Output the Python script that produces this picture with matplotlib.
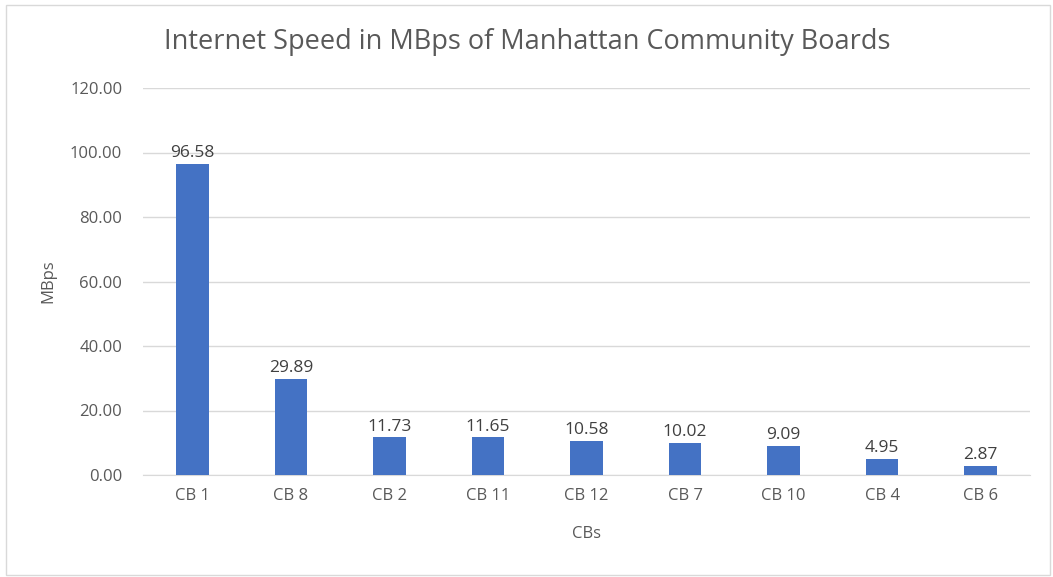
import matplotlib.pyplot as plt
from matplotlib.patches import Rectangle

boards = ["CB 1", "CB 8", "CB 2", "CB 11", "CB 12", "CB 7", "CB 10", "CB 4", "CB 6"]
speeds = [96.58, 29.89, 11.73, 11.65, 10.58, 10.02, 9.09, 4.95, 2.87]
yticks = [0, 20, 40, 60, 80, 100, 120]

plt.rcParams['font.family'] = ['Open Sans', 'DejaVu Sans']
txt = '#595959'

fig = plt.figure(figsize=(10.53, 5.77), dpi=100)
ax = fig.add_axes([143/1053, 1 - 475/577, (1030-143)/1053, (475-88)/577])

x = list(range(len(boards)))
bars = ax.bar(x, speeds, width=0.33, color='#4472C4', zorder=3)
for xi, v in zip(x, speeds):
    ax.text(xi, v + 0.8, f"{v:.2f}", ha='center', va='bottom', fontsize=12.5, color='#404040', zorder=4)

ax.set_xlim(-0.5, len(boards) - 0.5)
ax.set_ylim(0, 120)
ax.set_yticks(yticks)
ax.set_yticklabels([f"{t:.2f}" for t in yticks], fontsize=12, color=txt)
ax.set_xticks(x)
ax.set_xticklabels(boards, fontsize=12, color=txt)
ax.tick_params(length=0, pad=9)
ax.tick_params(axis='y', pad=15)
ax.grid(axis='y', color='#d9d9d9', linewidth=1, zorder=0)
for s in ['top', 'right', 'left']:
    ax.spines[s].set_visible(False)
ax.spines['bottom'].set_color('#d9d9d9')

ax.set_xlabel("CBs", fontsize=12, color=txt, labelpad=16)
ax.set_ylabel("MBps", fontsize=12, color=txt, labelpad=10)
fig.text(527/1053, 1 - 42/577, "Internet Speed in MBps of Manhattan Community Boards",
         ha='center', va='center', fontsize=19.5, color=txt)

fig.patches.append(Rectangle((6/1053, 2/577), 1044/1053, 570/577, transform=fig.transFigure,
                             fill=False, edgecolor='#d9d9d9', linewidth=1))

fig.savefig("out.png", dpi=100)
